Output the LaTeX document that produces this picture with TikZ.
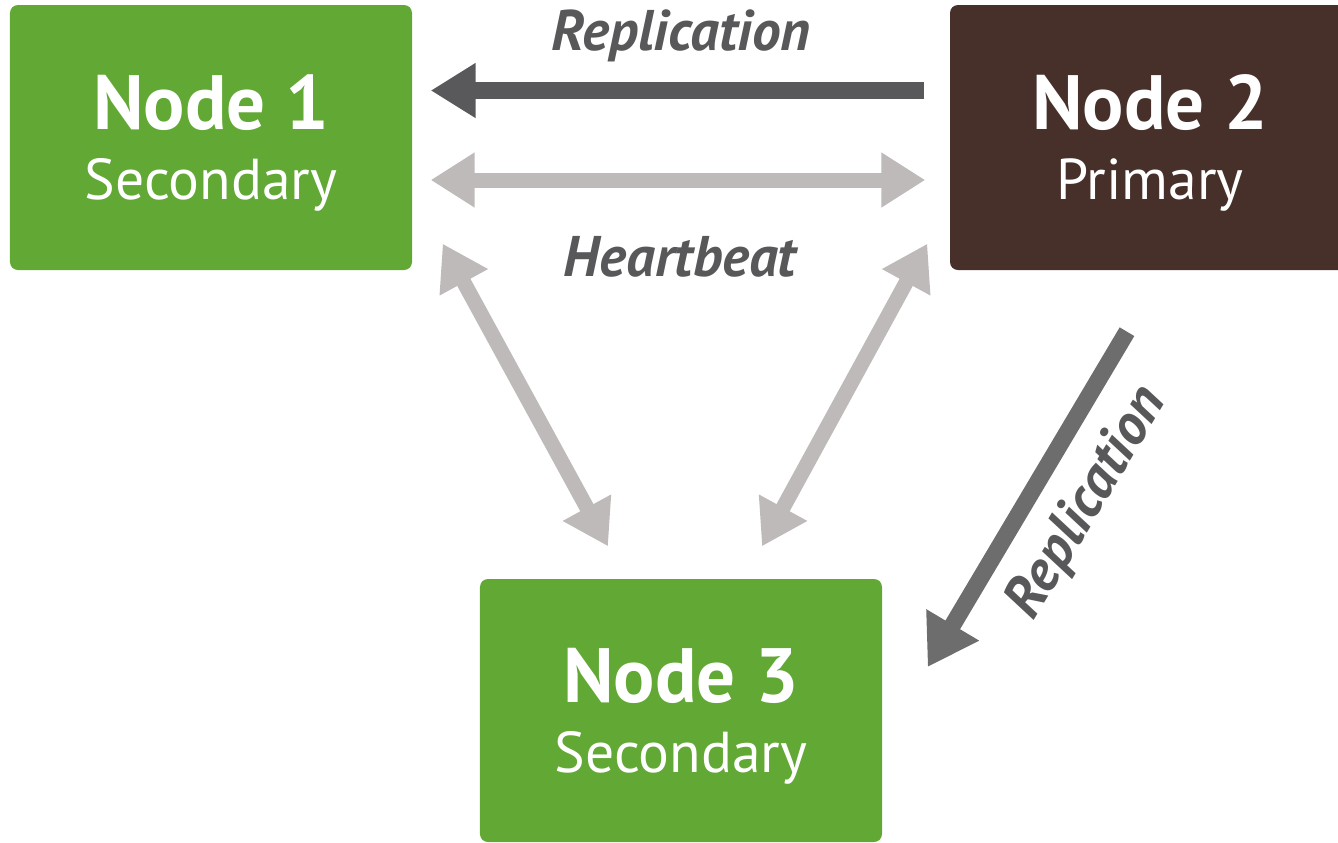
\documentclass[tikz,border=0pt]{standalone}
\usepackage{fontspec}
\setmainfont{PT Sans}
\usetikzlibrary{arrows.meta,calc}
\definecolor{nodegreen}{HTML}{61A834}
\definecolor{nodebrown}{HTML}{47302A}
\definecolor{repgray}{HTML}{59595B}
\definecolor{repgraylight}{HTML}{6D6D6D}
\definecolor{beatgray}{HTML}{BEBAB9}
\definecolor{labelgray}{HTML}{58585A}
\newcommand\nodetitle[1]{{\bfseries\fontsize{21.9}{19.9}\selectfont\rule{0pt}{18.7pt}#1}}

\begin{document}
\begin{tikzpicture}
    \tikzstyle{box}=[rounded corners=0.08cm,minimum width=4.02cm,minimum height=2.65cm,inner sep=0pt,align=center,text=white,font=\fontsize{16.4}{19.9}\selectfont]
    \tikzstyle{lbl}=[text=labelgray,font=\bfseries\itshape\fontsize{16.3}{18}\selectfont,inner sep=0pt]
    \tikzstyle{repl}=[draw=repgray,line width=0.17cm,-{Triangle[length=0.45cm,width=0.52cm]}]
    \tikzstyle{beat}=[draw=beatgray,line width=0.15cm,{Triangle[length=0.44cm,width=0.52cm]}-{Triangle[length=0.44cm,width=0.52cm]}]
    \useasboundingbox(0,0)rectangle(13.38,-8.42);
    \draw node[box,fill=nodegreen](n1)at(2.11,-1.375){\nodetitle{Node 1}\\Secondary}
          node[box,fill=nodebrown,minimum width=4cm](n2)at(11.50,-1.375){\nodetitle{Node 2}\\Primary}
          node[box,fill=nodegreen,minimum height=2.63cm](n3)at(6.81,-7.105){\nodetitle{Node 3}\\Secondary};
    % replication and heartbeat between the nodes
    \draw[repl,shorten <=0.25cm,shorten >=0.18cm]([yshift=0.47cm]n2.west)--([yshift=0.47cm]n1.east);
    \draw[beat,shorten <=0.18cm,shorten >=0.24cm]([yshift=-0.425cm]n1.east)--([yshift=-0.425cm]n2.west);
    \draw[beat]($(n1.south east)+(0.30,0.27)$)--($(n3.north)+(-0.73,0.32)$);
    \draw[beat]($(n2.south west)+(-0.22,0.27)$)--($(n3.north)+(0.81,0.32)$);
    \draw[repl,draw=repgraylight,-{Triangle[length=0.49cm,width=0.58cm]}]($(n2.south)+(-0.23,-0.61)$)--($(n3.east)+(0.45,0.435)$);
    \draw node[lbl,anchor=base](lrep)at(6.81,-0.50){Replication}
          node[lbl,anchor=base](lbeat)at(6.80,-2.76){Heartbeat}
          node[lbl,rotate=59](lrepb)at(10.88,-5.03){Replication};
  \end{tikzpicture}
\end{document}
